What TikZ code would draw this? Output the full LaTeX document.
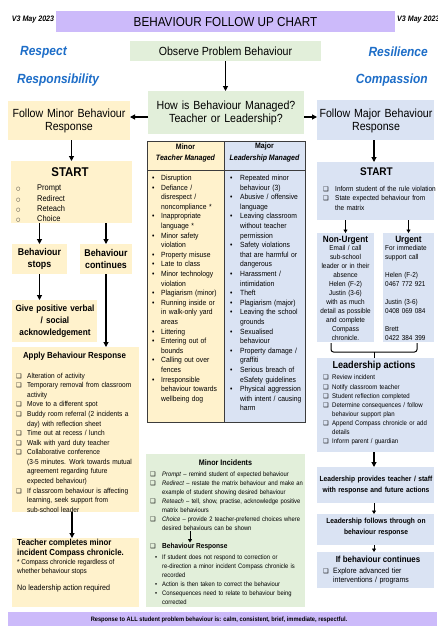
\documentclass[tikz,border=0pt]{standalone}
\usepackage{fontspec}
\setmainfont{Liberation Sans}[FakeStretch=0.9]
\newfontfamily\dejavu{DejaVu Sans}
\usetikzlibrary{arrows.meta}
\definecolor{ttl}{RGB}{204,186,250}
\definecolor{grn}{RGB}{226,239,218}
\definecolor{yel}{RGB}{255,242,204}
\definecolor{blu}{RGB}{218,227,243}
\definecolor{bluetxt}{RGB}{30,110,200}
\definecolor{tabln}{RGB}{60,60,60}
\newcommand{\fs}[2]{\fontsize{#1}{#2}\selectfont}
\newlength\hind
\newcommand{\itm}[1]{\par\hangindent=\hind\hangafter=1\noindent\strut\makebox[\hind][l]{#1}\ignorespaces}
\newcommand{\cb}{{\dejavu\fontsize{6.3}{6.3}\selectfont ❑}}
\newcommand{\bul}{•}
\newcommand{\smcirc}{{\dejavu\fontsize{5}{5}\selectfont ○}}
\newcommand{\bx}[6]{\node[boxs,fill=#6,minimum width={#4-#2},minimum height={#5-#3}] (#1) at (#2,#3) {};}
\tikzset{
 boxs/.style={draw=none,inner sep=0pt,outer sep=0pt,anchor=north west},
 arr/.style={line width=1.1pt,-{Triangle[length=5pt,width=5pt]}},
 sarr/.style={line width=1pt,-{Triangle[length=3.5pt,width=4pt]}},
 lst/.style={anchor=north west,inner sep=0pt,align=left,execute at begin node={\hyphenpenalty=10000\exhyphenpenalty=10000\relax}},
 txt/.style={inner sep=0pt},
 bw/.style={anchor=base west,inner sep=0pt},
 tabline/.style={draw=tabln,line width=0.9pt},
}
\begin{document}
\begin{tikzpicture}[x=1pt,y=-1pt]
\useasboundingbox[fill=white] (0,0) rectangle (437,626);
% ---------- boxes
\bx{titlebar}{56}{11}{395}{32}{ttl}
\bx{observe}{130}{41}{321}{61}{grn}
\bx{how}{148}{91}{304}{134}{grn}
\bx{fminor}{8}{101}{130}{140}{yel}
\bx{fmajor}{317}{100}{434}{140}{blu}
\bx{startL}{11}{161}{132}{223}{yel}
\bx{stops}{12}{244}{67}{274}{yel}
\bx{cont}{80}{244}{132}{274}{yel}
\bx{give}{12}{300}{97}{342}{yel}
\bx{apply}{12}{347}{139}{512}{yel}
\bx{teacher}{12}{538}{139}{607}{yel}
\bx{tabL}{147}{141}{224}{422}{yel}
\bx{tabR}{224}{141}{305}{422}{blu}
\bx{minorinc}{146}{454}{305}{607}{grn}
\bx{startR}{317}{162}{434}{220}{blu}
\bx{nonurg}{317}{233}{374}{342}{blu}
\bx{urg}{383}{233}{434}{342}{blu}
\bx{lead}{317}{358}{434}{452}{blu}
\bx{provides}{317}{467}{434}{503}{blu}
\bx{follows}{317}{514}{434}{545}{blu}
\bx{ifcont}{317}{552}{434}{588}{blu}
\bx{footer}{8}{612}{437}{626}{ttl}
% table lines
\coordinate (hdr) at (0,170);
\draw[tabline] (tabL.north west) rectangle (tabR.south east);
\draw[tabline] (tabL.north east) -- (tabL.south east);
\draw[tabline] (tabL.north west |- hdr) -- (tabR.north east |- hdr);
% ---------- header texts
\node[txt,font=\fs{13}{15}] (ttltext) at (225.5,22) {BEHAVIOUR FOLLOW UP CHART};
\node[txt,font=\fs{7.9}{9}\bfseries\itshape] (verL) at (33,20) {V3 May 2023};
\node[txt,font=\fs{7.9}{9}\bfseries\itshape,anchor=west] (verR) at (397,20) {V3 May 2023};
\node[txt,font=\fs{11.8}{13}] (obstext) at (225.5,51) {Observe Problem Behaviour};
\node[txt,font=\fs{11.8}{13},text width=156pt,align=center] (howtext) at (226,113) {How is Behaviour Managed?\\Teacher or Leadership?};
\node[txt,font=\fs{11.8}{13},text width=122pt,align=center] (fminortext) at (69,120.5) {Follow Minor Behaviour\\Response};
\node[txt,font=\fs{11.8}{13},text width=117pt,align=center] (fmajortext) at (376,120.5) {Follow Major Behaviour\\Response};
\node[txt,font=\fs{13.3}{15}\bfseries\itshape,text=bluetxt,anchor=west] (v1) at (20,52) {Respect};
\node[txt,font=\fs{13.3}{15}\bfseries\itshape,text=bluetxt,anchor=west] (v2) at (17,80) {Responsibility};
\node[txt,font=\fs{13.3}{15}\bfseries\itshape,text=bluetxt,anchor=east] (v3) at (428,52) {Resilience};
\node[txt,font=\fs{13.3}{15}\bfseries\itshape,text=bluetxt,anchor=east] (v4) at (428,80) {Compassion};
% ---------- left column
\node[txt,font=\fs{12.7}{14}\bfseries] (startLt) at (70,172) {START};
\node[lst,text width=110pt,font=\fs{8.3}{10.3}] (promptlist) at (16,180.3) {\setlength\hind{21pt}\itm{\smcirc}Prompt\itm{\smcirc}Redirect\itm{\smcirc}Reteach\itm{\smcirc}Choice\par};
\node[txt,font=\fs{9.8}{12}\bfseries,text width=55pt,align=center] (stopst) at (39.5,259) {Behaviour\\stops};
\node[txt,font=\fs{9.8}{12}\bfseries,text width=52pt,align=center] (contt) at (106,259) {Behaviour\\continues};
\node[txt,font=\fs{9.1}{11.7}\bfseries,text width=85pt,align=center] (givet) at (55,321) {Give positive verbal\\/ social\\acknowledgement};
\node[txt,font=\fs{8.8}{10}\bfseries] (applyt) at (74.5,356) {Apply Behaviour Response};
\node[lst,text width=140pt,font=\fs{7.25}{9.57}] (applylist) at (16,368.5) {\setlength\hind{11pt}%
\itm{\cb}Alteration of activity
\itm{\cb}Temporary removal from classroom\newline activity
\itm{\cb}Move to a different spot
\itm{\cb}Buddy room referral (2 incidents a\newline day) with reflection sheet
\itm{\cb}Time out at recess / lunch
\itm{\cb}Walk with yard duty teacher
\itm{\cb}Collaborative conference\newline (3-5 minutes. Work towards mutual\newline agreement regarding future\newline expected behaviour)
\itm{\cb}If classroom behaviour is affecting\newline learning, seek support from\newline sub-school leader\par};
\node[bw,font=\fs{8.7}{10}\bfseries] (tc1) at (17,545) {Teacher completes minor};
\node[bw,font=\fs{8.7}{10}\bfseries] (tc2) at (17,555) {incident Compass chronicle.};
\node[bw,font=\fs{7.1}{9}] (tc3) at (17,564.5) {* Compass chronicle regardless of};
\node[bw,font=\fs{7.1}{9}] (tc4) at (17,573.5) {whether behaviour stops};
\node[bw,font=\fs{7.9}{9}] (tc5) at (17,590) {No leadership action required};
% ---------- table
\node[txt,font=\fs{7.8}{9}\bfseries] (h1) at (185.5,146.5) {Minor};
\node[txt,font=\fs{7.8}{9}\bfseries\itshape] (h2) at (185.5,158.5) {Teacher Managed};
\node[txt,font=\fs{7.8}{9}\bfseries] (h3) at (264.5,146.5) {Major};
\node[txt,font=\fs{7.8}{9}\bfseries\itshape] (h4) at (264.5,158.5) {Leadership Managed};
\node[lst,text width=85pt,font=\fs{7.5}{9.6}] (minlist) at (152,170.6) {\setlength\hind{9pt}%
\itm{\bul}Disruption
\itm{\bul}Defiance /\newline disrespect /\newline noncompliance *
\itm{\bul}Inappropriate\newline language *
\itm{\bul}Minor safety\newline violation
\itm{\bul}Property misuse
\itm{\bul}Late to class
\itm{\bul}Minor technology\newline violation
\itm{\bul}Plagiarism (minor)
\itm{\bul}Running inside or\newline in walk-only yard\newline areas
\itm{\bul}Littering
\itm{\bul}Entering out of\newline bounds
\itm{\bul}Calling out over\newline fences
\itm{\bul}Irresponsible\newline behaviour towards\newline wellbeing dog\par};
\node[lst,text width=90pt,font=\fs{7.5}{9.6}] (majlist) at (230,170.6) {\setlength\hind{10pt}%
\itm{\bul}Repeated minor\newline behaviour (3)
\itm{\bul}Abusive / offensive\newline language
\itm{\bul}Leaving classroom\newline without teacher\newline permission
\itm{\bul}Safety violations\newline that are harmful or\newline dangerous
\itm{\bul}Harassment /\newline intimidation
\itm{\bul}Theft
\itm{\bul}Plagiarism (major)
\itm{\bul}Leaving the school\newline grounds
\itm{\bul}Sexualised\newline behaviour
\itm{\bul}Property damage /\newline graffiti
\itm{\bul}Serious breach of\newline eSafety guidelines
\itm{\bul}Physical aggression\newline with intent / causing\newline harm\par};
% ---------- minor incidents
\node[txt,font=\fs{8}{9}\bfseries] (mit) at (225.5,463) {Minor Incidents};
\node[lst,text width=175pt,font=\fs{6.5}{9}] (milist) at (150,467.7) {\setlength\hind{12pt}%
\itm{\cb}\textit{Prompt} – remind student of expected behaviour
\itm{\cb}\textit{Redirect} – restate the matrix behaviour and make an\newline example of student showing desired behaviour
\itm{\cb}\textit{Reteach} – tell, show, practise, acknowledge positive\newline matrix behaviours
\itm{\cb}\textit{Choice} – provide 2 teacher-preferred choices where\newline desired behaviours can be shown\par};
\coordinate (mia) at (190,531);
\coordinate (mib) at (190,542.5);
\node[bw,font=\fs{7.3}{9}] (brcb) at (150,548.5) {\cb};
\node[bw,font=\fs{7.3}{9}\bfseries] (brt) at (162,548.5) {Behaviour Response};
\node[lst,text width=170pt,font=\fs{6.5}{9}] (brlist) at (155,550.7) {\setlength\hind{7pt}%
\itm{\bul}If student does not respond to correction or\newline re-direction a minor incident Compass chronicle is\newline recorded
\itm{\bul}Action is then taken to correct the behaviour
\itm{\bul}Consequences need to relate to behaviour being\newline corrected\par};
% ---------- right column
\node[txt,font=\fs{11.1}{13}\bfseries] (startRt) at (376.5,172) {START};
\node[lst,text width=130pt,font=\fs{7.2}{9.6}] (startRlist) at (323,181.5) {\setlength\hind{12pt}%
\itm{\cb}Inform student of the rule violation
\itm{\cb}State expected behaviour from\newline the matrix\par};
\node[txt,font=\fs{9.1}{10}\bfseries] (nut) at (345.5,240) {Non-Urgent};
\node[txt,font=\fs{7.1}{9},text width=60pt,align=center,anchor=north] (nubody) at (345.5,243.8) {\strut Email / call\\sub-school\\leader or in their\\absence\\Helen (F-2)\\Justin (3-6)\\with as much\\detail as possible\\and complete\\Compass\\chronicle.};
\node[txt,font=\fs{9.1}{10}\bfseries] (ut) at (408.5,240) {Urgent};
\node[lst,text width=52pt,font=\fs{7.1}{9}] (ubody) at (385,243.8) {\strut For immediate\newline support call\newline\mbox{}\newline Helen (F-2)\newline 0467 772 921\newline\mbox{}\newline Justin (3-6)\newline 0408 069 084\newline\mbox{}\newline Brett\newline 0422 384 399\par};
\node[txt,font=\fs{10.1}{11}\bfseries] (leadt) at (374,366) {Leadership actions};
\node[lst,text width=125pt,font=\fs{6.7}{9.1}] (leadlist) at (323,370.6) {\setlength\hind{9pt}%
\itm{\cb}Review incident
\itm{\cb}Notify classroom teacher
\itm{\cb}Student reflection completed
\itm{\cb}Determine consequences / follow\newline behaviour support plan
\itm{\cb}Append Compass chronicle or add\newline details
\itm{\cb}Inform parent / guardian\par};
\node[txt,font=\fs{7.4}{11.5}\bfseries,text width=117pt,align=center] (provt) at (376,485) {Leadership provides teacher / staff\\with response and future actions};
\node[txt,font=\fs{7.4}{10.5}\bfseries,text width=117pt,align=center] (follt) at (376,527) {Leadership follows through on\\behaviour response};
\node[txt,font=\fs{8.8}{10}\bfseries] (ifct) at (378,559) {If behaviour continues};
\node[lst,text width=120pt,font=\fs{7.7}{9}] (ifclist) at (323,564) {\setlength\hind{10pt}%
\itm{\cb}Explore advanced tier\newline interventions / programs\par};
% footer
\node[txt,font=\fs{6.35}{7}\bfseries] (foott) at (219,619.5) {Response to ALL student problem behaviour is: calm, consistent, brief, immediate, respectful.};
% ---------- connectors
\draw[arr] (observe.south) -- (observe.south |- how.north);
\draw[arr] ([yshift=-4.5pt]how.west) -- ([yshift=-4.5pt]how.west -| fminor.east);
\draw[arr] ([yshift=-4.5pt]how.east) -- ([yshift=-4.5pt]how.east -| fmajor.west);
\draw[arr] (startL.north |- fminor.south) -- (startL.north);
\draw[arr] (stops.north |- startL.south) -- (stops.north);
\draw[arr] (cont.north |- startL.south) -- (cont.north);
\draw[arr] (stops.south) -- (stops.south |- give.north);
\draw[arr] (cont.south) -- (cont.south |- apply.north);
\draw[arr] ([xshift=-3.5pt]apply.south) -- ([xshift=-3.5pt]teacher.north);
\draw[sarr] (mia) -- (mib);
\draw[arr] ([xshift=-1.5pt]fmajor.south) -- ([xshift=-1.5pt]startR.north);
\draw[sarr] (nonurg.north |- startR.south) -- (nonurg.north);
\draw[sarr] (urg.north |- startR.south) -- (urg.north);
\coordinate (brL) at (331,343);
\coordinate (brR) at (417,343);
\coordinate (brM) at (374,352);
\draw[line width=1pt,rounded corners=2.5pt] (brL) |- (brM) -| (brR);
\draw[line width=1pt] (brM) -- (brM |- lead.north);
\draw[arr] ([xshift=-1.5pt]lead.south) -- ([xshift=-1.5pt]provides.north);
\draw[sarr] ([xshift=-1.5pt]provides.south) -- ([xshift=-1.5pt]follows.north);
\draw[sarr] ([xshift=-1.5pt]follows.south) -- ([xshift=-1.5pt]ifcont.north);
\end{tikzpicture}
\end{document}
